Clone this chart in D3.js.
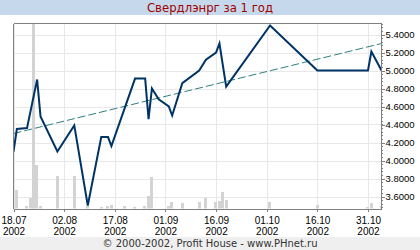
<!DOCTYPE html>
<html><head><meta charset="utf-8">
<script src="https://cdn.jsdelivr.net/npm/d3@7"></script>
<style>body{margin:0;background:#fff;} svg{display:block}</style>
</head><body><svg id="c" width="420" height="250"></svg>
<script>
const titleText = "Свердлэнрг за 1 год";
const footerText = "© 2000-2002, Profit House - www.PHnet.ru";

const priceDates = ["2002-07-18","2002-07-19","2002-07-22","2002-07-25","2002-07-26","2002-07-31",
  "2002-08-05","2002-08-09","2002-08-13","2002-08-15","2002-08-16","2002-08-23","2002-08-26",
  "2002-08-27","2002-08-28","2002-08-30","2002-09-02","2002-09-03","2002-09-06","2002-09-11",
  "2002-09-13","2002-09-16","2002-09-17","2002-09-19","2002-10-02","2002-10-16","2002-10-31",
  "2002-11-01","2002-11-04"];
const priceValues = [4.10,4.35,4.36,4.90,4.49,4.10,
  4.39,3.50,4.26,4.26,4.16,4.91,4.91,
  4.46,4.80,4.68,4.60,4.50,4.86,5.00,
  5.12,5.20,5.30,4.82,5.50,5.00,5.00,
  5.21,5.00];

const volumeDates = ["2002-07-19","2002-07-22","2002-07-23","2002-07-24","2002-07-25","2002-07-26",
  "2002-07-31","2002-08-05","2002-08-09","2002-08-13","2002-08-15","2002-08-16","2002-08-20",
  "2002-08-23","2002-08-26","2002-08-27","2002-08-28","2002-09-02","2002-09-03","2002-09-06",
  "2002-09-11","2002-09-13","2002-09-16","2002-09-17","2002-09-18","2002-09-19","2002-10-02",
  "2002-10-16","2002-10-31","2002-11-01","2002-11-04"];
const volumeValues = [190,23,107,1850,440,23,
  330,330,23,20,23,33,23,
  17,23,130,320,23,70,60,
  70,110,70,80,170,90,70,
  40,13,53,30];

const trendDates = ["2002-07-18","2002-11-04"];
const trendValues = [4.30,5.30];

const xDomain = ["2002-07-18","2002-11-04"];
const xTickDates = ["2002-07-18","2002-08-02","2002-08-17","2002-09-01","2002-09-16","2002-10-01","2002-10-16","2002-10-31"];
const xTickDays = ["18.07","02.08","17.08","01.09","16.09","01.10","16.10","31.10"];
const xTickYears = ["2002","2002","2002","2002","2002","2002","2002","2002"];
const yTicks = [3.6,3.8,4.0,4.2,4.4,4.6,4.8,5.0,5.2,5.4];

const parse = d3.timeParse("%Y-%m-%d");
const L = 13.5, R = 381.5, T = 23.5, B = 208.5;
const svg = d3.select("#c");
const smallFont = "'Liberation Sans Narrow','Arial Narrow','Liberation Sans',sans-serif";

// bands
svg.append("rect").attr("x",0).attr("y",0).attr("width",420).attr("height",15).attr("fill","#c6d9ec");
svg.append("rect").attr("x",0).attr("y",237).attr("width",420).attr("height",13).attr("fill","#efefef");
svg.append("text").attr("x",210).attr("y",8).attr("text-anchor","middle").attr("dominant-baseline","central")
  .attr("font-family","'DejaVu Sans',sans-serif").attr("font-size","11.7px").attr("fill","#a00000").text(titleText);
svg.append("text").attr("x",210).attr("y",243.5).attr("text-anchor","middle").attr("dominant-baseline","central")
  .attr("font-family","'DejaVu Sans',sans-serif").attr("font-size","10px").attr("fill","#333").text(footerText);

const x = d3.scaleTime().domain(xDomain.map(parse)).range([L, R]);
const y = d3.scaleLinear().domain([3.6,5.4]).range([196.5,34.5]);
const vy = d3.scaleLinear().domain([0, d3.max(volumeValues)]).range([B, T]);

svg.append("defs").append("clipPath").attr("id","clip").append("rect")
  .attr("x",L).attr("y",T).attr("width",R-L).attr("height",B-T);

// grid
const g = svg.append("g").attr("shape-rendering","crispEdges");
g.selectAll(".hg").data(yTicks).join("line")
  .attr("x1",L).attr("x2",R).attr("y1",d=>Math.round(y(d))+0.5).attr("y2",d=>Math.round(y(d))+0.5)
  .attr("stroke","#e8e8e8");
g.selectAll(".vg").data(xTickDates).join("line")
  .attr("x1",d=>Math.round(x(parse(d)))+0.5).attr("x2",d=>Math.round(x(parse(d)))+0.5)
  .attr("y1",T).attr("y2",B).attr("stroke","#e8e8e8");

// volume bars
const dayW = x(parse("2002-07-19")) - x(parse("2002-07-18"));
svg.append("g").attr("clip-path","url(#clip)").attr("shape-rendering","crispEdges")
  .selectAll("rect").data(volumeDates.map((d,i)=>({d:parse(d), v:volumeValues[i]}))).join("rect")
  .attr("x",d=>Math.round(x(d.d)-dayW/2)).attr("width",Math.round(dayW))
  .attr("y",d=>vy(d.v)).attr("height",d=>B-vy(d.v)).attr("fill","#d3d3d3");

// trend
const trend = trendDates.map((d,i)=>[x(parse(d)), y(trendValues[i])]);
svg.append("path").attr("d",d3.line()(trend)).attr("fill","none")
  .attr("stroke","#2f7f7f").attr("stroke-width",1).attr("stroke-dasharray","8,3");

// price line
const pts = priceDates.map((d,i)=>[x(parse(d)), y(priceValues[i])]);
svg.append("path").attr("clip-path","url(#clip)").attr("d",d3.line()(pts)).attr("fill","none")
  .attr("stroke","#003366").attr("stroke-width",2).attr("stroke-linejoin","miter");

// frame
const f = svg.append("g").attr("shape-rendering","crispEdges").attr("stroke","#808080");
f.append("line").attr("x1",L).attr("x2",R).attr("y1",T).attr("y2",T);
f.append("line").attr("x1",L).attr("x2",L).attr("y1",T).attr("y2",B);

// bottom axis
const xa = svg.append("g").attr("transform",`translate(0,${B})`)
  .call(d3.axisBottom(x).tickValues(xTickDates.map(parse)).tickSize(3).tickSizeOuter(0).tickFormat(""));
xa.select(".domain").attr("stroke","#808080").attr("shape-rendering","crispEdges");
xa.selectAll(".tick line").attr("stroke","#808080").attr("shape-rendering","crispEdges");
xa.selectAll(".tick").each(function(d,i){
  const t = d3.select(this).append("text").attr("fill","#000").attr("font-family",smallFont)
    .attr("font-size","10px").attr("text-anchor","middle");
  t.append("tspan").attr("x",0).attr("y",15).text(xTickDays[i]);
  t.append("tspan").attr("x",0).attr("y",26).text(xTickYears[i]);
});

// right axis
const minor = d3.range(3.48, 5.53, 0.04);
svg.append("g").attr("shape-rendering","crispEdges").selectAll("line").data(minor).join("line")
  .attr("x1",R).attr("x2",R+1.5).attr("y1",d=>Math.round(y(d))+0.5).attr("y2",d=>Math.round(y(d))+0.5)
  .attr("stroke","#808080");
const ya = svg.append("g").attr("transform",`translate(${R},0)`)
  .call(d3.axisRight(y).tickValues(yTicks).tickSize(3).tickSizeOuter(0).tickFormat(d3.format(".4f")));
ya.select(".domain").attr("d",`M0,${T}V${B}`).attr("stroke","#808080").attr("shape-rendering","crispEdges");
ya.selectAll(".tick line").attr("stroke","#808080").attr("shape-rendering","crispEdges");
ya.selectAll(".tick text").attr("x",4).attr("fill","#000").attr("font-family",smallFont).attr("font-size","9.5px");
</script></body></html>
